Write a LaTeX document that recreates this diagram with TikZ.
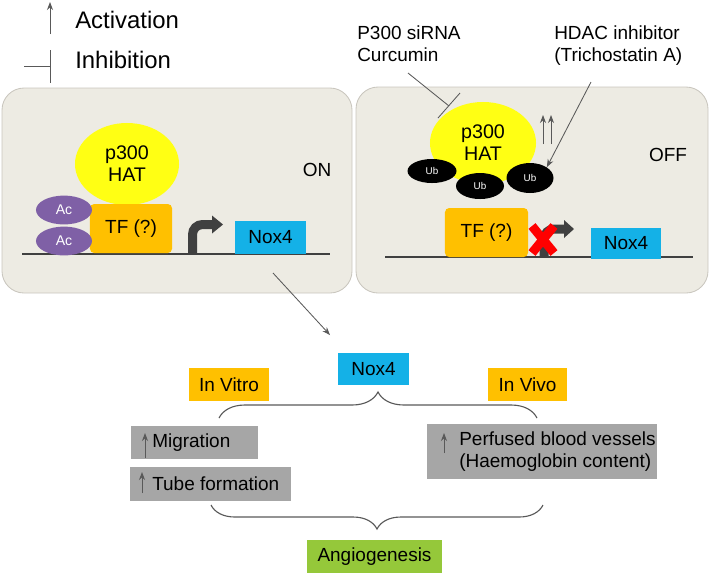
\documentclass[tikz,border=0pt]{standalone}
\usepackage{fontspec}
\setmainfont{Liberation Sans}
\usetikzlibrary{arrows.meta,shapes.geometric,decorations.pathreplacing,positioning}
\definecolor{panelbg}{HTML}{EDEBE3}
\definecolor{panelline}{HTML}{C9C6BE}
\definecolor{hatyellow}{HTML}{FFFF14}
\definecolor{tforange}{HTML}{FFC000}
\definecolor{acpurple}{HTML}{7F60A6}
\definecolor{noxblue}{HTML}{14B1E7}
\definecolor{boxgray}{HTML}{A6A6A6}
\definecolor{angiogreen}{HTML}{95C83A}
\definecolor{darkline}{HTML}{404040}
\definecolor{thinline}{HTML}{595959}
\newcommand\figtxt{\fontsize{13.5}{15.6}\selectfont}
\newcommand\legtxt{\fontsize{17}{20}\selectfont}
\tikzset{
	panel/.style={draw=panelline, fill=panelbg, rounded corners=0.55cm, line width=0.6pt},
	hat/.style={ellipse, fill=hatyellow, inner sep=0pt, align=center, font=\fontsize{14}{15.6}\selectfont},
	tfbox/.style={fill=tforange, rounded corners=3pt, inner sep=0pt, font=\figtxt},
	acmark/.style={ellipse, fill=acpurple, text=white, inner sep=0pt, minimum width=1.4cm, minimum height=0.72cm, font=\fontsize{10}{12}\selectfont},
	ubmark/.style={ellipse, fill=black, text=white, inner sep=0pt, font=\fontsize{7}{8}\selectfont},
	noxbox/.style={fill=noxblue, inner sep=0pt, font=\figtxt},
	sitebox/.style={fill=tforange, inner sep=0pt, minimum height=0.825cm, font=\figtxt},
	graybox/.style={fill=boxgray, inner sep=0pt},
	plain/.style={inner sep=0pt, font=\figtxt},
	dna/.style={line width=1pt, draw=darkline},
	bent/.style={line width=6.4pt, draw=darkline, rounded corners=0.25cm},
	thinarrow/.style={line width=0.6pt, draw=thinline},
	bracket/.style={decorate, line width=0.8pt, draw=thinline},
}
\begin{document}
\begin{tikzpicture}[x=0.025cm, y=-0.025cm, >=Stealth]
		\useasboundingbox (0,0) rectangle (709,575);
		% legend
		\draw [thinarrow, ->] (50,34) -- (50,2);
		\node [inner sep=0pt, font=\legtxt, anchor=west] (actlbl) at (75,20) {Activation};
		\draw [thinarrow] (50,50) -- (50,83);
		\draw [thinarrow] (24,66) -- (50,66);
		\node [inner sep=0pt, font=\legtxt, anchor=west] (inhlbl) at (75,60) {Inhibition};
		% panels
		\draw [panel] (2,88) rectangle (352,293);
		\draw [panel] (356,87) rectangle (708,293);
		% ON state
		\draw [dna] (22,254) -- (330,254);
		\node [hat, minimum width=2.6cm, minimum height=2.05cm] (hatL) at (127,164) {p300\\HAT};
		\node [tfbox, minimum width=2.05cm, minimum height=1.225cm] (tfL) at (131,228.5) {TF (?)};
		\node [acmark] (acA) at (64,210) {Ac};
		\node [acmark] (acB) at (64,241) {Ac};
		\draw [bent] (192.5,254) |- (213,224.5);
		\fill [darkline] (212,215.5) -- (223,224.5) -- (212,233.5) -- cycle;
		\node [noxbox, minimum width=1.775cm, minimum height=0.825cm] (noxL) at (270.5,237.5) {Nox4};
		\node [plain] (onlbl) at (317,170) {ON};
		% OFF state
		\draw [dna] (385,257) -- (693,257);
		\node [hat, minimum width=2.65cm, minimum height=2.05cm] (hatR) at (483,143) {p300\\HAT};
		\node [ubmark, minimum width=1.225cm, minimum height=0.6cm] (ubA) at (432,171) {Ub};
		\node [ubmark, minimum width=1.2cm, minimum height=0.65cm] (ubB) at (480,186) {Ub};
		\node [ubmark, minimum width=1.175cm, minimum height=0.75cm] (ubC) at (530,178) {Ub};
		\node [tfbox, minimum width=2.075cm, minimum height=1.225cm] (tfR) at (486.5,232.5) {TF (?)};
		\draw [bent] (544,257) |- (565,229);
		\fill [darkline] (564,220) -- (574,229) -- (564,238) -- cycle;
		\draw [line width=6.4pt, red] (532,226) -- (554,253);
		\draw [line width=6.4pt, red] (554,226) -- (532,253);
		\node [noxbox, minimum width=1.75cm, minimum height=0.775cm] (noxR) at (626,243.5) {Nox4};
		\node [plain] (offlbl) at (668,155) {OFF};
		\node [plain, align=left, anchor=west] (sirna) at (357,44) {P300 siRNA\\Curcumin};
		\node [plain, align=left, anchor=west] (hdac) at (554,46) {HDAC inhibitor\\(Trichostatin A)};
		\coordinate (sirnaEnd) at (408,73);
		\coordinate (sirnaTee) at (449,106);
		\draw [thinarrow] (sirnaEnd) -- (sirnaTee);
		\draw [thinarrow] (438,118) -- (460,93);
		\coordinate (hdacEnd) at (591,82);
		\draw [thinarrow, ->] (hdacEnd) -- (ubC.north east);
		\draw [thinarrow, ->] (543,144) -- (543,115);
		\draw [thinarrow, ->] (551,144) -- (551,115);
		% outcome
		\coordinate (fromOn) at (273,273);
		\coordinate (toNox) at (330,335);
		\draw [thinarrow, ->] (fromOn) -- (toNox);
		\node [noxbox, minimum width=1.775cm, minimum height=0.8cm] (noxC) at (373.5,369) {Nox4};
		\node [sitebox, minimum width=2cm] (vitro) at (229,384.5) {In Vitro};
		\node [sitebox, minimum width=1.975cm] (vivo) at (527.5,384.5) {In Vivo};
		\coordinate (topL) at (219,418);
		\coordinate (topR) at (537,418);
		\draw [bracket, decoration={brace, amplitude=0.65cm}] (topL) -- (topR);
		\node [graybox, minimum width=3.175cm, minimum height=0.825cm] (mig) at (194.5,442.5) {};
		\node [plain, anchor=west] (miglbl) at (152,442.5) {Migration};
		\draw [thinarrow, ->] (145,458) -- (145,433);
		\node [graybox, minimum width=4.025cm, minimum height=0.85cm] (tube) at (210.5,484) {};
		\node [plain, anchor=west] (tubelbl) at (152,484) {Tube formation};
		\draw [thinarrow, ->] (142,493) -- (142,472);
		\node [graybox, minimum width=5.75cm, minimum height=1.375cm] (perf) at (542,451.5) {};
		\node [plain, align=left, anchor=west] (perflbl) at (459,452) {Perfused blood vessels\\(Haemoglobin content)};
		\draw [thinarrow, ->] (444,453) -- (444,433);
		\coordinate (botL) at (211,505);
		\coordinate (botR) at (543,505);
		\draw [bracket, decoration={brace, amplitude=0.6cm}] (botR) -- (botL);
		\node [fill=angiogreen, inner sep=0pt, minimum width=3.375cm, minimum height=0.825cm, font=\figtxt] (angio) at (374.5,556.5) {Angiogenesis};
	\end{tikzpicture}
\end{document}
